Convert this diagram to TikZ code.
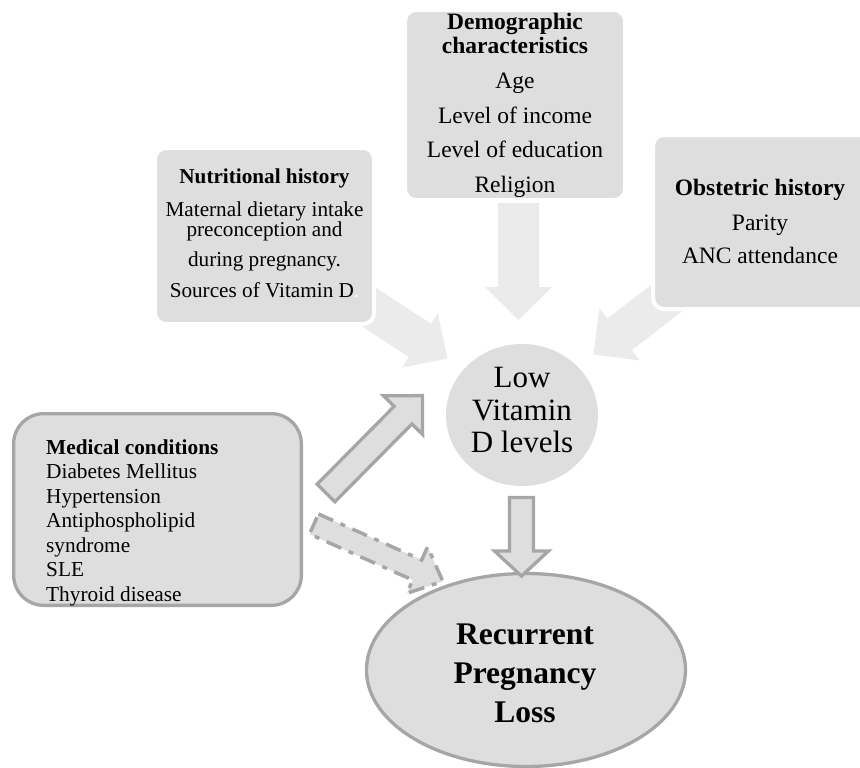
\documentclass[tikz,border=0pt]{standalone}
\usepackage{fontspec}
\setmainfont{Liberation Serif}
\usetikzlibrary{calc,shapes.geometric}
\definecolor{boxfill}{HTML}{DEDEDE}
\definecolor{arrowlight}{HTML}{EBEBEB}
\definecolor{bordergray}{HTML}{A6A6A6}
% #1 name, #2 style, #3 tail, #4 tip, #5 shaft half width, #6 head half width, #7 head length
\newcommand{\blockarr}[7]{%
  \coordinate (#1b) at ($(#4)!#7!(#3)$);
  \path[#2] ($(#3)!#5!90:(#4)$) -- ($(#1b)!#5!-90:(#3)$) -- ($(#1b)!#6!-90:(#3)$)
    -- (#4) -- ($(#1b)!#6!90:(#3)$) -- ($(#1b)!#5!90:(#3)$) -- ($(#3)!#5!-90:(#4)$) -- cycle;
}
\begin{document}
\begin{tikzpicture}[x=1pt,y=-1pt,
  softbox/.style={rectangle, rounded corners=11pt, fill=boxfill, draw=white, line width=4pt, inner sep=0pt},
  medbox/.style={rectangle, rounded corners=30pt, fill=boxfill, draw=bordergray, line width=3.3pt, inner sep=0pt},
  txt/.style={inner sep=0pt, align=center, text=black},
  lightarrow/.style={fill=arrowlight},
  solidarrow/.style={fill=boxfill, draw=bordergray, line width=3.3pt},
  dasharrow/.style={fill=boxfill, draw=bordergray, line width=3.5pt, dash pattern=on 16pt off 8pt on 5pt off 8pt}
]
\useasboundingbox (0,0) rectangle (860,768);
\clip (0,0) rectangle (860,768);

% light arrows (drawn under the boxes)
\coordinate (demTail) at (518.5,203);
\coordinate (demTip) at (518.5,320);
\coordinate (nutTail) at (337,286);
\coordinate (nutTip) at (447.5,358.5);
\coordinate (obsTail) at (699,273);
\coordinate (obsTip) at (593.5,354.5);
\blockarr{dA}{lightarrow}{demTail}{demTip}{20.5pt}{33.5pt}{33pt}
\blockarr{nA}{lightarrow}{nutTail}{nutTip}{20pt}{32.5pt}{33pt}
\blockarr{oA}{lightarrow}{obsTail}{obsTip}{20pt}{33pt}{33pt}

% top boxes
\node[softbox, minimum width=219pt, minimum height=176pt] (nut) at (264.5,236) {};
\node[txt, font=\fontsize{21.2}{20}\selectfont] (nutT) at (264.5,233.8)
  {\textbf{Nutritional history}\\[13pt]Maternal dietary intake\\preconception and\\[10pt]during pregnancy.\\[11pt]Sources of Vitamin D{\color{white}.}};

\node[softbox, minimum width=220pt, minimum height=190pt] (dem) at (515,105) {};
\node[txt, font=\fontsize{23.5}{24}\selectfont] (demT) at (515,105.5)
  {\textbf{Demographic}\\\textbf{characteristics}\\[11pt]Age\\[11pt]Level of income\\[10pt]Level of education\\[11pt]Religion};

\node[softbox, minimum width=219pt, minimum height=174pt] (obs) at (762.5,222) {};
\node[txt, font=\fontsize{23.5}{24}\selectfont] (obsT) at (760,221.5)
  {\textbf{Obstetric history}\\[11pt]Parity\\[9pt]ANC attendance};

% medical conditions box
\node[medbox, minimum width=287.7pt, minimum height=191.7pt] (med) at (157.5,509.5) {};
\node[inner sep=0pt, align=left, anchor=west, font=\fontsize{21.3}{24.5}\selectfont] (medT) at (46,522.5)
  {\textbf{Medical conditions}\\Diabetes Mellitus\\Hypertension\\Antiphospholipid\\syndrome\\SLE\\Thyroid disease};

% low vitamin D circle
\node[ellipse, fill=boxfill, minimum width=152pt, minimum height=142pt, inner sep=0pt] (vitd) at (522,415) {};
\node[txt, font=\fontsize{31}{32.5}\selectfont] (vitdT) at (522,410) {Low\\Vitamin\\D levels};

% medical -> vitamin D
\coordinate (medTail) at (326,493);
\coordinate (medTip) at (422.4,395.6);
\blockarr{mA}{solidarrow}{medTail}{medTip}{12.5pt}{27.5pt}{27.5pt}

% medical -> RPL (dashed)
\coordinate (dTail) at (314,524);
\coordinate (dTip) at (442.8,581.4);
\blockarr{xA}{dasharrow}{dTail}{dTip}{11pt}{25.5pt}{28pt}

% recurrent pregnancy loss
\node[ellipse, fill=boxfill, draw=bordergray, line width=3.3pt, minimum width=319pt, minimum height=193pt, inner sep=0pt] (rpl) at (526,670) {};
\node[txt, font=\bfseries\fontsize{31.5}{39}\selectfont] (rplT) at (525,673.4) {Recurrent\\Pregnancy\\Loss};

% vitamin D -> RPL
\coordinate (vTail) at (521.5,497.5);
\coordinate (vTip) at (521.5,576);
\blockarr{vA}{solidarrow}{vTail}{vTip}{12pt}{27pt}{25pt}
\end{tikzpicture}
\end{document}
